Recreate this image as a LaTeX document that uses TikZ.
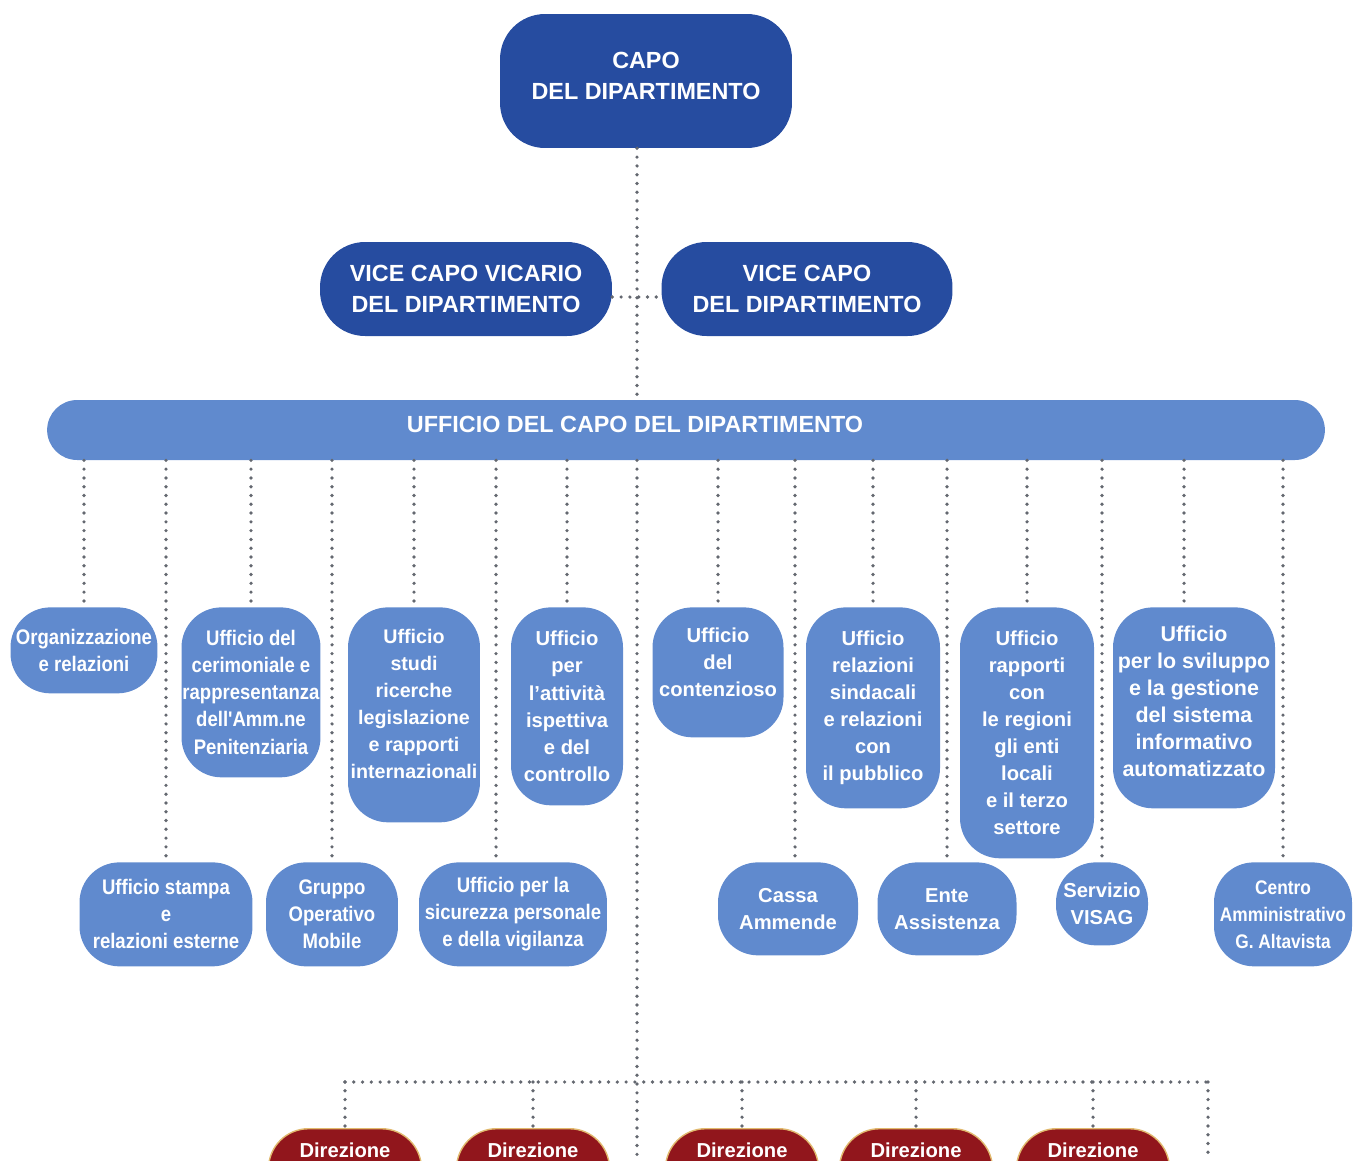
\documentclass[tikz,border=0pt]{standalone}
\usepackage{fontspec}
\setmainfont{Liberation Sans}
\newfontfamily\narrowfont{Liberation Sans}[FakeStretch=0.88]
\usepackage{tikz}
\definecolor{capoblue}{RGB}{38,76,160}
\definecolor{officeblue}{RGB}{96,138,206}
\definecolor{dotgray}{RGB}{100,104,112}
\definecolor{direzred}{RGB}{145,22,28}
\definecolor{direzgold}{RGB}{225,185,110}

\begin{document}
\begin{tikzpicture}[x=0.02cm, y=-0.02cm,
  chief/.style={fill=capoblue, text=white, align=center, inner sep=0pt, rounded corners=0.9cm,
    font=\bfseries\fontsize{13.3}{17.6}\selectfont},
  office/.style={fill=officeblue, text=white, align=center, inner sep=0pt, rounded corners=0.8cm,
    font=\bfseries\fontsize{11.5}{15.4}\selectfont},
  narrowtext/.style={font=\narrowfont\bfseries\fontsize{12}{15.4}\selectfont},
  top/.style={office, anchor=north},
  band/.style={fill=officeblue, inner sep=0pt, rounded corners=0.6cm, minimum width=25.56cm, minimum height=1.2cm},
  bandtext/.style={text=white, inner sep=0pt, font=\bfseries\fontsize{13.3}{17.6}\selectfont},
  direz/.style={fill=direzred, draw=direzgold, line width=0.8pt, text=white, anchor=north, inner sep=0pt,
    rounded corners=0.8cm, minimum width=3.06cm, minimum height=2cm, text depth=1.16cm,
    font=\bfseries\fontsize{11.5}{15.4}\selectfont},
  link/.style={draw=dotgray, line width=2.1pt, line cap=round, dash pattern=on 0pt off 5pt}]
\useasboundingbox (0,0) rectangle (1354,1160);
\clip (0,0) rectangle (1354,1160);

% Head and deputies
\node[chief, minimum width=5.84cm, minimum height=2.68cm, text depth=0.22cm] (capo) at (646,81) {CAPO\\DEL DIPARTIMENTO};
\node[chief, minimum width=5.84cm, minimum height=1.88cm] (vicario) at (466,289) {VICE CAPO VICARIO\\DEL DIPARTIMENTO};
\node[chief, minimum width=5.82cm, minimum height=1.88cm] (vice) at (807,289) {VICE CAPO\\DEL DIPARTIMENTO};
\node[band, label={[bandtext, xshift=-1.02cm, yshift=0.12cm]center:UFFICIO DEL CAPO DEL DIPARTIMENTO}] (ucd) at (686,430) {};

% First row of offices
\node[top, narrowtext, minimum width=2.94cm, minimum height=1.72cm] (org) at (84,607) {Organizzazione\\e relazioni};
\node[top, narrowtext, minimum width=2.78cm, minimum height=3.40cm] (ceri) at (251,607) {Ufficio del\\cerimoniale e\\rappresentanza\\dell'Amm.ne\\Penitenziaria};
\node[top, font=\bfseries\fontsize{11.2}{15.4}\selectfont, minimum width=2.64cm, minimum height=4.30cm, text depth=0.44cm] (studi) at (414,607) {Ufficio\\studi\\ricerche\\legislazione\\e rapporti\\internazionali};
\node[top, minimum width=2.24cm, minimum height=3.96cm] (attiv) at (567,607) {Ufficio\\per\\l’attività\\ispettiva\\e del\\controllo};
\node[top, minimum width=2.62cm, minimum height=2.60cm, text depth=0.4cm] (cont) at (718,607) {Ufficio\\del\\contenzioso};
\node[top, minimum width=2.68cm, minimum height=4.02cm] (sind) at (873,607) {Ufficio\\relazioni\\sindacali\\e relazioni\\con\\il pubblico};
\node[top, minimum width=2.68cm, minimum height=5.02cm] (rapp) at (1027,607) {Ufficio\\rapporti\\con\\le regioni\\gli enti\\locali\\e il terzo\\settore};
\node[top, font=\bfseries\fontsize{12.2}{15.4}\selectfont, minimum width=3.24cm, minimum height=4.02cm, text depth=0.26cm] (svil) at (1194,607) {Ufficio\\per lo sviluppo\\e la gestione\\del sistema\\informativo\\automatizzato};

% Second row of offices
\node[top, narrowtext, minimum width=3.46cm, minimum height=2.08cm] (stampa) at (166,862) {Ufficio stampa\\e\\relazioni esterne};
\node[top, narrowtext, minimum width=2.64cm, minimum height=2.08cm] (gom) at (332,862) {Gruppo\\Operativo\\Mobile};
\node[top, narrowtext, minimum width=3.76cm, minimum height=2.08cm] (sic) at (513,862) {Ufficio per la\\sicurezza personale\\e della vigilanza};
\node[top, minimum width=2.80cm, minimum height=1.86cm] (cassa) at (788,862) {Cassa\\Ammende};
\node[top, minimum width=2.78cm, minimum height=1.86cm] (ente) at (947,862) {Ente\\Assistenza};
\node[top, minimum width=1.84cm, minimum height=1.66cm] (visag) at (1102,862) {Servizio\\VISAG};
\node[top, narrowtext, font=\narrowfont\bfseries\fontsize{11.2}{15.4}\selectfont, minimum width=2.76cm, minimum height=2.08cm] (centro) at (1283,862) {Centro\\Amministrativo\\G. Altavista};

% Directorates
\node[direz] (dir1) at (345,1128) {Direzione};
\node[direz] (dir2) at (533,1128) {Direzione};
\node[direz] (dir3) at (742,1128) {Direzione};
\node[direz] (dir4) at (916,1128) {Direzione};
\node[direz] (dir5) at (1093,1128) {Direzione};

% Dotted links
\coordinate (spine) at (637,0);
\coordinate (spineend) at (637,1160);
\coordinate (vlink) at (0,297);
\coordinate (busl) at (345,1082);
\coordinate (busr) at (1208,1082);
\coordinate (busend) at (1208,1160);
\coordinate (sicin) at ([xshift=-0.34cm]sic.north);
\coordinate (svilin) at ([xshift=-0.2cm]svil.north);
\coordinate (cassain) at ([xshift=0.14cm]cassa.north);

\draw[link] (capo.south -| spine) -- (ucd.north -| spine);
\draw[link] (vicario.east |- vlink) -- (vice.west |- vlink);
\draw[link] (spine |- ucd.south) -- (spineend);
\foreach \n in {org,ceri,studi,attiv,cont,sind,rapp,stampa,gom,ente,visag,centro}
  \draw[link] (ucd.south -| \n.north) -- (\n.north);
\foreach \n in {sicin,svilin,cassain}
  \draw[link] (ucd.south -| \n) -- (\n);
\draw[link] (busl) -- (busr);
\foreach \n in {dir1,dir2,dir3,dir4,dir5}
  \draw[link] (\n.north |- busl) -- (\n.north);
\draw[link] (busr) -- (busend);
\end{tikzpicture}
\end{document}
